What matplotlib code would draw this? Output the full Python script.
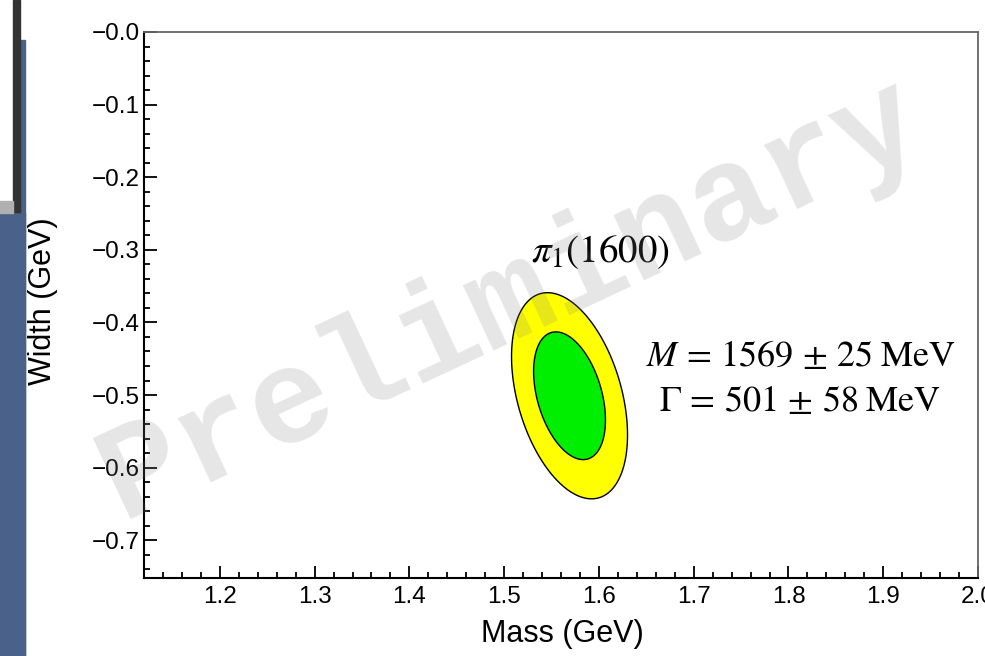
import numpy as np
import matplotlib
matplotlib.use("Agg")
import matplotlib.pyplot as plt
from matplotlib.patches import Polygon, Rectangle
from matplotlib.ticker import MultipleLocator, FuncFormatter

# fit result for pi1(1600), GeV
mass = 1.569
width = 0.501
sig_mass = 0.025
sig_width = 0.058
rho = 0.38          # correlation between mass and width
chi2_levels = [5.99, 2.30]   # 95% (yellow), 68% (green)
fill_colors = ["#ffff00", "#00ee00"]

x_ticks = [1.2, 1.3, 1.4, 1.5, 1.6, 1.7, 1.8, 1.9, 2.0]
y_ticks = [0.0, -0.1, -0.2, -0.3, -0.4, -0.5, -0.6, -0.7]

plt.rcParams["font.family"] = ["Liberation Sans", "DejaVu Sans"]
plt.rcParams["mathtext.fontset"] = "stix"

fig = plt.figure(figsize=(9.85, 6.56), dpi=100)

# slide background strip on the left
W, H = 985.0, 656.0
fig.patches.append(Rectangle((0, 0), 25 / W, (H - 213) / H, transform=fig.transFigure,
                             color="#4a6189", zorder=0))
fig.patches.append(Rectangle((20 / W, 0), 5 / W, (H - 40) / H, transform=fig.transFigure,
                             color="#4a6189", zorder=0))
fig.patches.append(Rectangle((13 / W, (H - 212) / H), 7 / W, 212 / H, transform=fig.transFigure,
                             color="#333333", zorder=0))
fig.patches.append(Rectangle((0, (H - 213) / H), 13 / W, 12 / H, transform=fig.transFigure,
                             color="#b0b0b0", zorder=0))

ax = fig.add_axes([144 / W, 78 / H, 834 / W, 546 / H])

# covariance in plotted coords (mass, -width)
cov = np.array([[sig_mass ** 2, -rho * sig_mass * sig_width],
                [-rho * sig_mass * sig_width, sig_width ** 2]])
L = np.linalg.cholesky(cov)
t = np.linspace(0, 2 * np.pi, 300)
for lev, col in zip(chi2_levels, fill_colors):
    k = np.sqrt(lev)
    pts = (L @ np.vstack([k * np.cos(t), k * np.sin(t)])).T + [mass, -width]
    ax.add_patch(Polygon(pts, closed=True, facecolor=col, edgecolor="black", lw=1.0, zorder=2))

ax.set_xlim(1.12, 2.0)
ax.set_ylim(-0.752, 0.0)
ax.xaxis.set_minor_locator(MultipleLocator(0.02))
ax.yaxis.set_minor_locator(MultipleLocator(0.02))
ax.set_xticks(x_ticks)
ax.set_yticks(y_ticks)
ax.xaxis.set_major_formatter(FuncFormatter(lambda v, p: "%.1f" % v))
ax.yaxis.set_major_formatter(FuncFormatter(lambda v, p: "\u2212%.1f" % abs(v)))
ax.tick_params(which="both", direction="in", top=False, right=False, width=1.3, labelsize=17.5)
ax.tick_params(which="major", length=9)
ax.tick_params(which="minor", length=4.5)
ax.tick_params(axis="x", pad=6)
ax.tick_params(axis="y", pad=3)
for s in ["left", "bottom"]:
    ax.spines[s].set_linewidth(1.5)
for s in ["top", "right"]:
    ax.spines[s].set_color("#666666")
    ax.spines[s].set_linewidth(1.3)

ax.set_xlabel("Mass (GeV)", fontsize=22)
ax.xaxis.set_label_coords(0.502, -0.075)
ax.set_ylabel("Width (GeV)", fontsize=22)
ax.yaxis.set_label_coords(-0.103, 0.507)

ax.text(0.547, 0.597, r"$\pi_1(1600)$", transform=ax.transAxes, fontsize=28,
        ha="center", va="center", zorder=3)
ax.text(0.787, 0.405, r"$M\,=\,1569\,\pm\,25\;\mathrm{MeV}$", transform=ax.transAxes,
        fontsize=26, ha="center", va="center", zorder=3)
ax.text(0.787, 0.324, r"$\Gamma\,=\,501\,\pm\,58\;\mathrm{MeV}$", transform=ax.transAxes,
        fontsize=26, ha="center", va="center", zorder=3)

ax.text(0.44, 0.51, "Preliminary", transform=ax.transAxes, fontsize=97,
        family="Liberation Mono", fontweight="bold", color="gray", alpha=0.2,
        rotation=25, ha="center", va="center", zorder=4)

fig.savefig("out.png", dpi=100)
